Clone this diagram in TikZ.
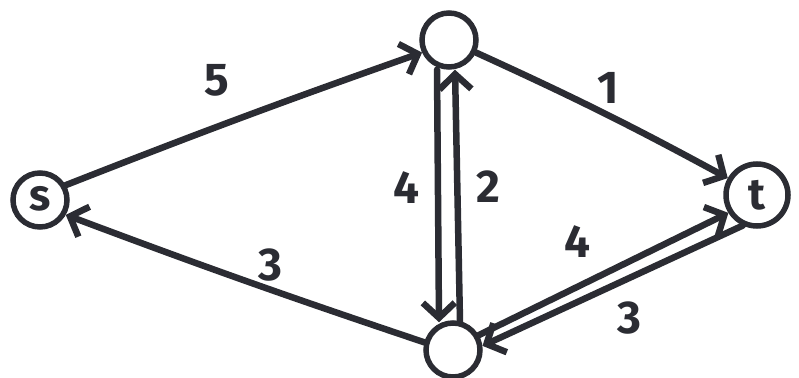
\documentclass[tikz,border=0pt]{standalone}
\usepackage{fontspec}
\setmainfont{Fira Sans}
\usetikzlibrary{arrows.meta,calc}
\definecolor{ink}{HTML}{2B2C33}
\begin{document}
\begin{tikzpicture}[x=1pt,y=1pt,
  vert/.style={circle,draw=ink,line width=5.5pt,minimum size=54pt,inner sep=0pt,
    font=\bfseries\fontsize{44}{44}\selectfont,text=ink},
  edge/.style={draw=ink,line width=6.5pt,line cap=round,
    -{Straight Barb[length=15pt,width=32pt,line width=6.5pt]}},
  lbl/.style={font=\bfseries\fontsize{46}{46}\selectfont,text=ink}]
\useasboundingbox (0,0) rectangle (799,377);
\node[vert] (s) at (40,177) {\raisebox{3pt}{s}};
\node[vert] (a) at (449,337) {};
\node[vert,minimum size=62pt] (t) at (757,182) {t};
\node[vert] (b) at (453,27) {};
% edges
\draw[edge] (s.30) to[bend left=1] (a.205);
\draw[edge] (a.-25) to[bend left=2] (t.150);
\draw[edge] ($(a.south)+(-12,0)$) -- ($(b.north)+(-14,-2)$);
\draw[edge] ($(b.north)+(7,-2)$) -- ($(a.south)+(6,0)$);
\draw[edge] (b.165) to[bend left=1] (s.-30);
\draw[edge] (b.30) -- (t.212);
\draw[edge] (t.245) -- (b.8);
% labels
\node[lbl] (l5) at (217,297) {5};
\node[lbl] (l1) at (608,289) {1};
\node[lbl] (l4a) at (406,189) {4};
\node[lbl] (l2) at (488,190) {2};
\node[lbl] (l3a) at (270,112) {3};
\node[lbl] (l4b) at (577,135) {4};
\node[lbl] (l3b) at (629,59) {3};
\end{tikzpicture}
\end{document}
